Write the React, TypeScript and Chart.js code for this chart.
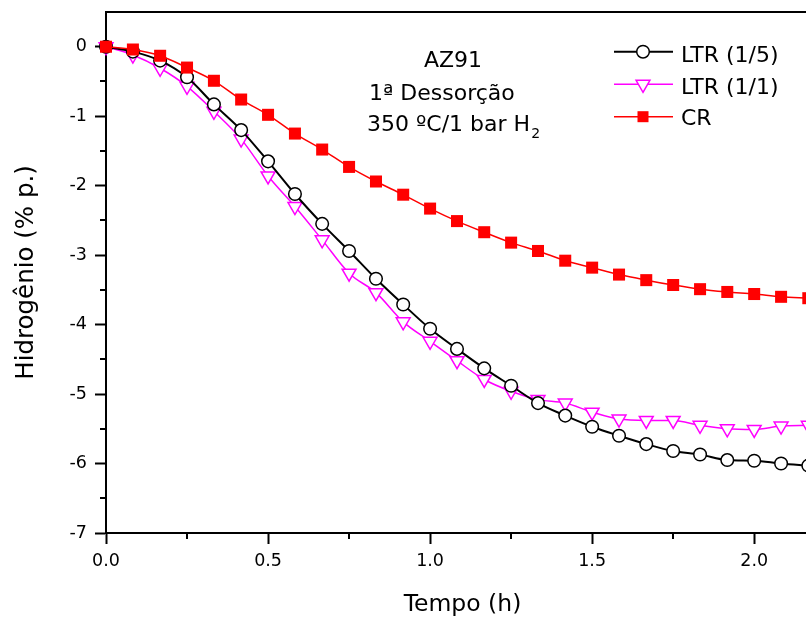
import React, { useEffect, useRef } from 'react';
import { Chart, registerables } from 'chart.js';

Chart.register(...registerables);

// ---- data ----
const timeH = [0, 0.083, 0.167, 0.25, 0.333, 0.417, 0.5, 0.583, 0.667, 0.75, 0.833, 0.917, 1.0, 1.083, 1.167, 1.25, 1.333, 1.417, 1.5, 1.583, 1.667, 1.75, 1.833, 1.917, 2.0, 2.083, 2.167];
const ltr15 = [0, -0.07, -0.2, -0.44, -0.83, -1.2, -1.65, -2.12, -2.55, -2.94, -3.34, -3.71, -4.06, -4.35, -4.63, -4.88, -5.13, -5.31, -5.47, -5.6, -5.72, -5.82, -5.87, -5.95, -5.96, -6.0, -6.03];
const ltr11 = [0, -0.12, -0.31, -0.57, -0.93, -1.33, -1.86, -2.3, -2.78, -3.26, -3.54, -3.96, -4.24, -4.52, -4.79, -4.96, -5.08, -5.13, -5.26, -5.36, -5.38, -5.38, -5.45, -5.5, -5.51, -5.46, -5.45];
const cr = [0, -0.04, -0.13, -0.3, -0.49, -0.76, -0.98, -1.25, -1.48, -1.73, -1.94, -2.13, -2.33, -2.51, -2.67, -2.82, -2.94, -3.08, -3.18, -3.28, -3.36, -3.43, -3.49, -3.53, -3.56, -3.6, -3.62];
const seriesNames = ['LTR (1/5)', 'LTR (1/1)', 'CR'];
const xMinorTicks = [0.25, 0.75, 1.25, 1.75];
const yMinorTicks = [-6.5, -5.5, -4.5, -3.5, -2.5, -1.5, -0.5];
const annotationLines = ['AZ91', '1ª Dessorção', '350 ºC/1 bar H'];
const annotationSub = '2';
const xTitle = 'Tempo (h)';
const yTitle = 'Hidrogênio (% p.)';

const FONT = "'DejaVu Sans', sans-serif";

const toPts = (ys: number[]) => ys.map((y, i) => ({ x: timeH[i], y }));

function drawMarker(ctx: CanvasRenderingContext2D, style: string, cx: number, cy: number, color: string) {
  ctx.save();
  ctx.lineWidth = 1.5;
  if (style === 'circle') {
    ctx.beginPath();
    ctx.arc(cx, cy, 6.3, 0, Math.PI * 2);
    ctx.fillStyle = '#fff';
    ctx.fill();
    ctx.strokeStyle = color;
    ctx.stroke();
  } else if (style === 'triangle') {
    const r = 8;
    ctx.beginPath();
    ctx.moveTo(cx, cy + r);
    ctx.lineTo(cx + r * Math.sin(Math.PI / 3), cy - r / 2);
    ctx.lineTo(cx - r * Math.sin(Math.PI / 3), cy - r / 2);
    ctx.closePath();
    ctx.fillStyle = '#fff';
    ctx.fill();
    ctx.strokeStyle = color;
    ctx.stroke();
  } else {
    ctx.fillStyle = color;
    ctx.fillRect(cx - 5.5, cy - 5.5, 11, 11);
  }
  ctx.restore();
}

const decorPlugin = {
  id: 'decor',
  afterDraw(chart: any) {
    const { ctx, chartArea, scales } = chart;
    const xs = scales.x;
    const ys = scales.y;
    ctx.save();
    ctx.strokeStyle = '#000';
    ctx.lineWidth = 2;
    ctx.beginPath();
    ctx.moveTo(chartArea.left - 1, chartArea.top);
    ctx.lineTo(chartArea.right, chartArea.top);
    ctx.stroke();
    ctx.beginPath();
    for (const v of yMinorTicks) {
      const py = Math.round(ys.getPixelForValue(v));
      ctx.moveTo(chartArea.left - 6, py);
      ctx.lineTo(chartArea.left, py);
    }
    for (const v of xMinorTicks) {
      const px = Math.round(xs.getPixelForValue(v));
      ctx.moveTo(px, chartArea.bottom);
      ctx.lineTo(px, chartArea.bottom + 6);
    }
    ctx.stroke();

    // legend
    const legX1 = 614, legX2 = 673, legMx = 643, legTx = 681;
    const rowsY = [51.7, 84.3, 116.7];
    const baseY = [61.7, 93.5, 124.5];
    ctx.font = `22px ${FONT}`;
    ctx.fillStyle = '#000';
    ctx.textAlign = 'left';
    ctx.textBaseline = 'alphabetic';
    chart.data.datasets.forEach((ds: any, i: number) => {
      ctx.save();
      ctx.strokeStyle = ds.borderColor;
      ctx.lineWidth = ds.borderWidth;
      ctx.beginPath();
      ctx.moveTo(legX1, rowsY[i]);
      ctx.lineTo(legX2, rowsY[i]);
      ctx.stroke();
      ctx.restore();
      drawMarker(ctx, ds.pointStyle, legMx, rowsY[i], ds.pointBorderColor);
      ctx.fillStyle = '#000';
      ctx.fillText(ds.label, legTx, baseY[i]);
    });

    // annotation
    ctx.font = `22px ${FONT}`;
    ctx.fillText(annotationLines[0], 424, 67.3);
    ctx.fillText(annotationLines[1], 369, 100);
    ctx.fillText(annotationLines[2], 367, 130.5);
    const w = ctx.measureText(annotationLines[2]).width;
    ctx.font = `14px ${FONT}`;
    ctx.fillText(annotationSub, 367 + w + 1, 138);
    ctx.restore();
  },
};

export default function App() {
  const ref = useRef<HTMLCanvasElement | null>(null);
  useEffect(() => {
    if (!ref.current) return;
    const chart = new Chart(ref.current, {
      type: 'line',
      data: {
        datasets: [
          {
            label: seriesNames[0],
            data: toPts(ltr15),
            borderColor: '#000000',
            borderWidth: 2,
            pointStyle: 'circle',
            pointRadius: 6.3,
            pointBorderWidth: 1.5,
            pointBackgroundColor: '#ffffff',
            pointBorderColor: '#000000',
            cubicInterpolationMode: 'monotone',
            clip: false,
            order: 1,
          },
          {
            label: seriesNames[1],
            data: toPts(ltr11),
            borderColor: '#ff00ff',
            borderWidth: 1.5,
            pointStyle: 'triangle',
            rotation: 180,
            pointRadius: 8,
            pointBorderWidth: 1.5,
            pointBackgroundColor: '#ffffff',
            pointBorderColor: '#ff00ff',
            cubicInterpolationMode: 'monotone',
            clip: false,
            order: 2,
          },
          {
            label: seriesNames[2],
            data: toPts(cr),
            borderColor: '#ff0000',
            borderWidth: 1.5,
            pointStyle: 'rect',
            pointRadius: 8.5,
            pointBorderWidth: 0,
            pointBackgroundColor: '#ff0000',
            pointBorderColor: '#ff0000',
            cubicInterpolationMode: 'monotone',
            clip: false,
            order: 0,
          },
        ] as any,
      },
      options: {
        responsive: false,
        animation: false,
        events: [],
        layout: { padding: { top: 12, right: 11, left: 0, bottom: 0 } },
        plugins: { legend: { display: false }, tooltip: { enabled: false } },
        scales: {
          x: {
            type: 'linear',
            min: 0,
            max: 2.2,
            afterFit: (s: any) => { s.height = 86; s.paddingLeft = 0; s.paddingRight = 0; },
            ticks: {
              stepSize: 0.5,
              includeBounds: false,
              padding: 6.5,
              color: '#000',
              font: { family: FONT, size: 17.5 },
              callback: (v: any) => Number(v).toFixed(1),
              maxRotation: 0,
            },
            grid: { drawOnChartArea: false, drawTicks: true, tickLength: 11, tickWidth: 2, tickColor: '#000' },
            border: { display: true, color: '#000', width: 2 },
            title: { display: true, text: xTitle, color: '#000', font: { family: FONT, size: 23.5 }, padding: { top: 0, bottom: 0 } },
          },
          y: {
            type: 'linear',
            min: -7,
            max: 0.5,
            afterFit: (s: any) => { s.width = 106; s.paddingTop = 0; s.paddingBottom = 0; },
            ticks: {
              stepSize: 1,
              includeBounds: false,
              padding: 8,
              color: '#000',
              font: { family: FONT, size: 17.5 },
              callback: (v: any) => String(v),
            },
            grid: { drawOnChartArea: false, drawTicks: true, tickLength: 11, tickWidth: 2, tickColor: '#000' },
            border: { display: true, color: '#000', width: 2 },
            title: { display: true, text: yTitle, color: '#000', font: { family: FONT, size: 24.5 }, padding: { top: 11.5, bottom: 0 } },
          },
        },
      } as any,
      plugins: [decorPlugin],
    });
    return () => chart.destroy();
  }, []);
  return (
    <div style={{ position: 'fixed', left: 0, top: 0, width: 806, height: 619, overflow: 'hidden', background: '#fff' }}>
      <canvas ref={ref} width={830} height={619} style={{ width: 830, height: 619, display: 'block' }} />
    </div>
  );
}
